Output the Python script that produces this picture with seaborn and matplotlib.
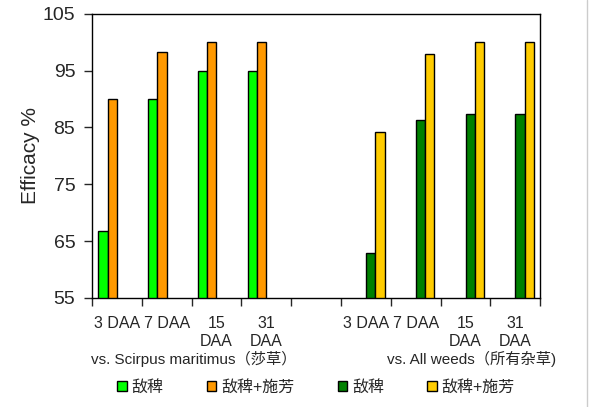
import matplotlib
matplotlib.use('Agg')
import matplotlib.pyplot as plt
from matplotlib.patches import Patch
from matplotlib.lines import Line2D
import seaborn as sns
import pandas as pd

# Category slots (one empty slot separates the two groups)
CAT_KEYS = ['a3', 'a7', 'a15', 'a31', 'gap', 'b3', 'b7', 'b15', 'b31']
TICK_LABELS = ['3 DAA', '7 DAA', '15\nDAA', '31\nDAA', '',
               '3 DAA', '7 DAA', '15\nDAA', '31\nDAA']

SERIES_KEYS = ['s1', 's2', 's3', 's4']
SERIES_LABELS = ['敌稗', '敌稗+施芳', '敌稗', '敌稗+施芳']
COLORS = ['#00FF00', '#FF9900', '#008000', '#FFCC00']

# vs. Scirpus maritimus
s1_vals = [66.7, 90.0, 95.0, 95.0]
s2_vals = [90.0, 98.3, 100.0, 100.0]
# vs. All weeds
s3_vals = [62.9, 86.4, 87.3, 87.3]
s4_vals = [84.2, 98.0, 100.0, 100.0]

GROUP_LABELS = ['vs. Scirpus maritimus（莎草）', 'vs. All weeds（所有杂草)']

rows = []
for key, vals in [('s1', s1_vals), ('s2', s2_vals)]:
    for c, v in zip(CAT_KEYS[:4], vals):
        rows.append({'cat': c, 'series': key, 'value': v})
for key, vals in [('s3', s3_vals), ('s4', s4_vals)]:
    for c, v in zip(CAT_KEYS[5:], vals):
        rows.append({'cat': c, 'series': key, 'value': v})
df = pd.DataFrame(rows)

sns.set_style('white')
plt.rcParams['font.family'] = ['Liberation Sans', 'Noto Sans CJK SC', 'DejaVu Sans']

fig = plt.figure(figsize=(5.97, 4.07), dpi=100)
ax = fig.add_axes([0.154, 0.268, 0.751, 0.698])

sns.barplot(data=df, x='cat', y='value', hue='series',
            order=CAT_KEYS, hue_order=SERIES_KEYS,
            palette=COLORS, width=0.75, dodge=True,
            edgecolor='black', linewidth=1, saturation=1,
            legend=False, ax=ax, errorbar=None)

ax.set_ylim(55, 105)
ax.set_yticks([55, 65, 75, 85, 95, 105])
ax.tick_params(axis='y', direction='out', length=6, width=1, labelsize=14,
               left=True, pad=6)
ax.set_xlim(-0.5, len(CAT_KEYS) - 0.5)

# ticks at boundaries, labels centred in each slot
ax.set_xticks([i - 0.5 for i in range(len(CAT_KEYS) + 1)])
ax.set_xticklabels([])
ax.tick_params(axis='x', which='major', direction='out', length=6, width=1,
               bottom=True)
ax.set_xticks(range(len(CAT_KEYS)), minor=True)
ax.set_xticklabels(TICK_LABELS, minor=True, fontsize=11.5, linespacing=1.25,
                   va='top')
ax.tick_params(axis='x', which='minor', length=0, pad=13)

ax.set_xlabel('')
ax.set_ylabel('Efficacy %', fontsize=15, labelpad=2)

for sp in ax.spines.values():
    sp.set_visible(True)
    sp.set_color('black')
    sp.set_linewidth(1)

fig.text(194 / 597, 1 - 359 / 407, GROUP_LABELS[0], ha='center', va='center',
         fontsize=11)
fig.text(472 / 597, 1 - 359 / 407, GROUP_LABELS[1], ha='center', va='center',
         fontsize=11)

handles = [Patch(facecolor=c, edgecolor='black', linewidth=1) for c in COLORS]
fig.legend(handles, SERIES_LABELS, ncol=4, frameon=False, fontsize=11.5,
           loc='center', bbox_to_anchor=(316 / 597, 1 - 387 / 407),
           handlelength=0.6, handleheight=0.6, handletextpad=0.3,
           columnspacing=2.7)

# thin grey border at the right edge of the original image
fig.add_artist(Line2D([587 / 597, 587 / 597], [0, 1], color='#cccccc',
                      linewidth=1, transform=fig.transFigure))

fig.savefig('out.png', dpi=100)
